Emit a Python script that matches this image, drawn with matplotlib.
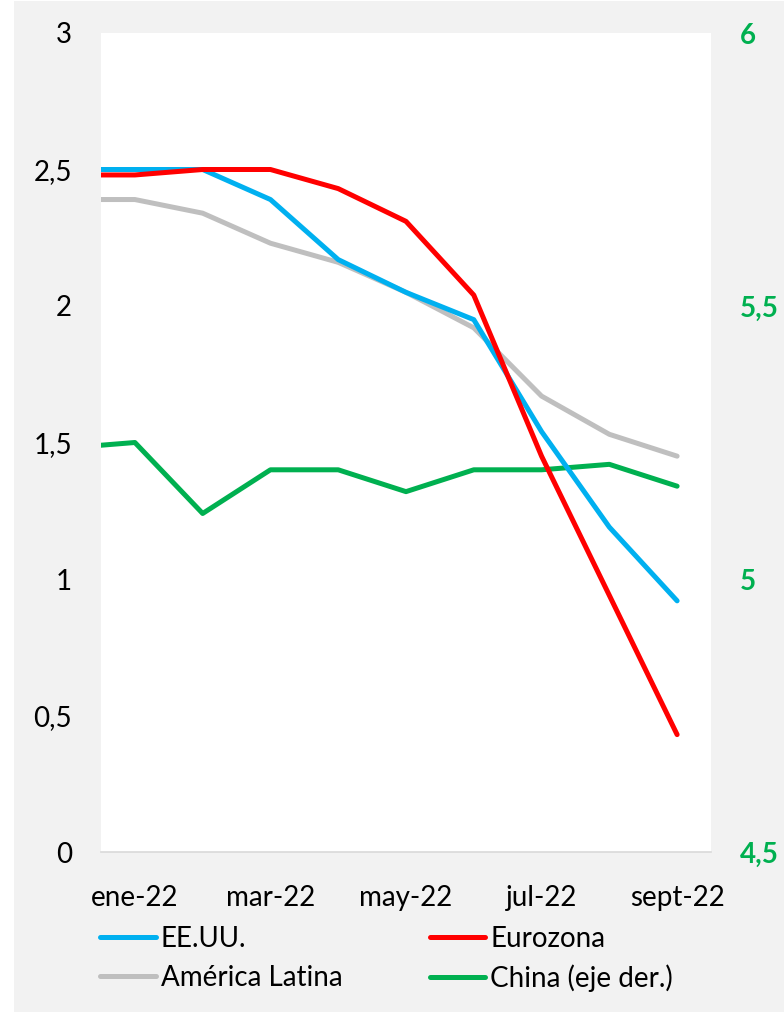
import matplotlib.pyplot as plt
from matplotlib.patches import Rectangle
from matplotlib.ticker import FuncFormatter

plt.rcParams['font.family'] = ['Lato', 'DejaVu Sans']

# x positions in months from ene-22 (first point is half a month earlier)
months = [-0.5, 0, 1, 2, 3, 4, 5, 6, 7, 8]
tick_pos = [0, 2, 4, 6, 8]
tick_labels = ['ene-22', 'mar-22', 'may-22', 'jul-22', 'sept-22']

eeuu = [2.50, 2.50, 2.50, 2.39, 2.17, 2.05, 1.95, 1.54, 1.19, 0.92]
eurozona = [2.48, 2.48, 2.50, 2.50, 2.43, 2.31, 2.04, 1.45, 0.94, 0.43]
latam = [2.39, 2.39, 2.34, 2.23, 2.16, 2.05, 1.92, 1.67, 1.53, 1.45]
china = [5.245, 5.25, 5.12, 5.20, 5.20, 5.16, 5.20, 5.20, 5.21, 5.17]

BLUE = '#00b0f0'
RED = '#ff0000'
GRAY = '#bfbfbf'
GREEN = '#00b050'

fig = plt.figure(figsize=(7.84, 10.13), dpi=100, facecolor='white')
fig.add_artist(Rectangle((14 / 784, 1 - 1012 / 1013), 770 / 784, 1011 / 1013,
                         transform=fig.transFigure, facecolor='#f2f2f2',
                         edgecolor='none', zorder=-1))

ax = fig.add_axes([101 / 784, 161 / 1013, 610 / 784, 819 / 1013])
ax2 = ax.twinx()
ax.set_zorder(ax2.get_zorder() + 1)
ax.patch.set_visible(False)
ax2.patch.set_visible(True)
ax2.patch.set_facecolor('white')

lw = 3.6
kw = dict(linewidth=lw, solid_capstyle='round', solid_joinstyle='round')
l_china, = ax2.plot(months, china, color=GREEN, label='China (eje der.)', **kw)
l_latam, = ax.plot(months, latam, color=GRAY, label='América Latina', **kw)
l_eeuu, = ax.plot(months, eeuu, color=BLUE, label='EE.UU.', **kw)
l_euro, = ax.plot(months, eurozona, color=RED, label='Eurozona', **kw)

ax.set_xlim(-0.5, 8.5)
ax.set_ylim(0, 3)
ax2.set_ylim(4.5, 6)
ax.set_yticks([0, 0.5, 1, 1.5, 2, 2.5, 3])
ax2.set_yticks([4.5, 5, 5.5, 6])

fmt = FuncFormatter(lambda v, p: ('%g' % v).replace('.', ','))
ax.yaxis.set_major_formatter(fmt)
ax2.yaxis.set_major_formatter(fmt)

ax.set_xticks(tick_pos)
ax.set_xticklabels(tick_labels)

for a in (ax, ax2):
    for s in a.spines.values():
        s.set_visible(False)
ax2.spines['bottom'].set_visible(True)
ax2.spines['bottom'].set_color('#d9d9d9')
ax2.spines['bottom'].set_linewidth(1.2)

ax.tick_params(axis='y', length=0, pad=21, labelsize=20, labelcolor='black')
ax.tick_params(axis='x', length=0, pad=24, labelsize=20, labelcolor='black')
ax2.tick_params(axis='y', length=0, pad=21, labelsize=20, labelcolor=GREEN)
for t in ax2.get_yticklabels():
    t.set_fontweight('bold')
ax2.tick_params(axis='x', length=0)

# legend filled column by column
fig.legend(handles=[l_eeuu, l_latam, l_euro, l_china],
           labels=['EE.UU.', 'América Latina', 'Eurozona', 'China (eje der.)'],
           ncol=2, loc='upper left', bbox_to_anchor=(100 / 784, 1 - 926 / 1013),
           frameon=False, fontsize=20, handlelength=2.0, handletextpad=0.18,
           columnspacing=3.15, labelspacing=0.45, borderaxespad=0, borderpad=0)

fig.savefig('out.png', dpi=100, facecolor=fig.get_facecolor())
